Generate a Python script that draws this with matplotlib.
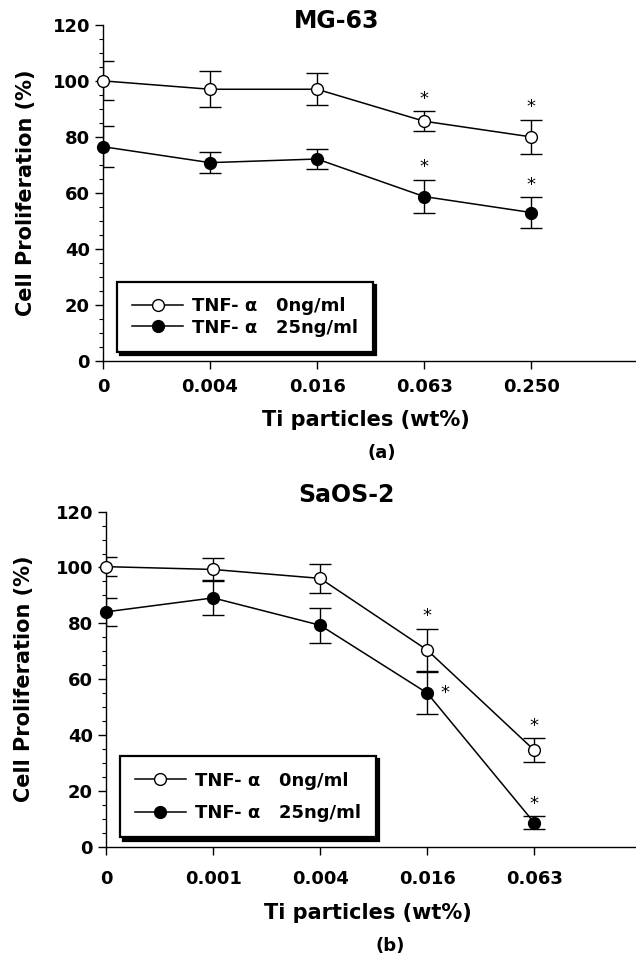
import matplotlib
matplotlib.use("Agg")
import matplotlib.pyplot as plt
from matplotlib.ticker import MultipleLocator

plt.rcParams["font.family"] = "DejaVu Sans"
plt.rcParams["font.weight"] = "bold"
plt.rcParams["axes.labelweight"] = "bold"

# ----------------------------------------------------------------------
# Data
# ----------------------------------------------------------------------
# (a) MG-63
mg_doses = ["0", "0.004", "0.016", "0.063", "0.250"]
mg_ctrl = [100.0, 97.0, 97.0, 85.6, 80.0]
mg_ctrl_err = [7.0, 6.4, 5.7, 3.6, 6.0]
mg_tnf = [76.5, 70.8, 72.1, 58.7, 53.0]
mg_tnf_err = [7.4, 3.7, 3.4, 6.0, 5.5]
mg_ctrl_star = [None, None, None, "top", "top"]
mg_tnf_star = [None, None, None, "top", "top"]

# (b) SaOS-2
sa_doses = ["0", "0.001", "0.004", "0.016", "0.063"]
sa_ctrl = [100.3, 99.3, 96.1, 70.4, 34.5]
sa_ctrl_err = [3.3, 4.0, 5.3, 7.6, 4.3]
sa_tnf = [84.1, 89.1, 79.3, 55.0, 8.5]
sa_tnf_err = [5.0, 6.3, 6.2, 7.6, 2.4]
sa_ctrl_star = [None, None, None, "top", "top"]
sa_tnf_star = [None, None, None, "right", "top"]

legend_labels = ["TNF- α   0ng/ml", "TNF- α   25ng/ml"]
y_ticks = [0, 20, 40, 60, 80, 100, 120]


def add_stars(ax, means, errs, where):
    for i, (m, e, w) in enumerate(zip(means, errs, where)):
        if w == "top":
            ax.text(i, m + e + 4.5, "*", ha="center", va="center",
                    fontsize=13, fontweight="normal")
        elif w == "right":
            ax.text(i + 0.17, m, "*", ha="center", va="center",
                    fontsize=13, fontweight="normal")


def draw_panel(ax, doses, ctrl, ctrl_err, tnf, tnf_err, ctrl_star, tnf_star,
               title, title_xy, xlab_xy, tag, tag_xy, ylab_x, xmax,
               xpad, leg_spacing, leg_pad):
    x = list(range(len(doses)))

    # error bars (clipped at the y axis, like the original)
    ax.errorbar(x, ctrl, yerr=ctrl_err, fmt="none", ecolor="black",
                elinewidth=1.0, capsize=8, capthick=1.0)
    ax.errorbar(x, tnf, yerr=tnf_err, fmt="none", ecolor="black",
                elinewidth=1.0, capsize=8, capthick=1.0)

    l1, = ax.plot(x, ctrl, "-o", color="black", lw=1.1, ms=8.5,
                  mfc="white", mec="black", mew=1.0, clip_on=False, zorder=3)
    l2, = ax.plot(x, tnf, "-o", color="black", lw=1.1, ms=8.5,
                  mfc="black", mec="black", clip_on=False, zorder=3)

    add_stars(ax, ctrl, ctrl_err, ctrl_star)
    add_stars(ax, tnf, tnf_err, tnf_star)

    ax.set_xlim(0, xmax)
    ax.set_ylim(0, 120)
    ax.set_xticks(x)
    ax.set_xticklabels(doses)
    ax.set_yticks(y_ticks)
    ax.yaxis.set_minor_locator(MultipleLocator(5))

    for side in ("top", "right"):
        ax.spines[side].set_visible(False)
    for side in ("left", "bottom"):
        ax.spines[side].set_linewidth(1.0)

    ax.tick_params(axis="y", which="major", direction="out", length=5.8,
                   width=1.0, pad=3.5, labelsize=13)
    ax.tick_params(axis="y", which="minor", direction="out", length=3,
                   width=0.8)
    ax.tick_params(axis="x", which="major", direction="out", length=5.8,
                   width=1.0, pad=xpad, labelsize=13)

    ax.set_ylabel("Cell Proliferation (%)", fontsize=15, fontweight="bold")
    ax.yaxis.set_label_coords(ylab_x, 0.5)

    ax.set_xlabel("Ti particles (wt%)", fontsize=15, fontweight="bold")
    ax.xaxis.set_label_coords(*xlab_xy)
    ax.xaxis.label.set_va("center")

    ax.text(title_xy[0], title_xy[1], title, transform=ax.transAxes,
            ha="center", va="center", fontsize=17)
    ax.text(tag_xy[0], tag_xy[1], tag, transform=ax.transAxes,
            ha="center", va="center", fontsize=13)

    leg = ax.legend([l1, l2], legend_labels, loc="lower left",
                    bbox_to_anchor=(0.026, 0.027), borderaxespad=0,
                    fancybox=False, framealpha=1, edgecolor="black",
                    shadow={"ox": 2.2, "oy": -2.2, "color": "black",
                            "alpha": 1.0},
                    fontsize=13, handlelength=2.8, handletextpad=0.5,
                    labelspacing=leg_spacing, borderpad=leg_pad, numpoints=1)
    leg.get_frame().set_linewidth(1.6)


fig = plt.figure(figsize=(6.36, 9.55), dpi=100)
ax_a = fig.add_axes([0.162, 0.622, 0.838, 0.352])
ax_b = fig.add_axes([0.1667, 0.1136, 0.8333, 0.3506])

draw_panel(ax_a, mg_doses, mg_ctrl, mg_ctrl_err, mg_tnf, mg_tnf_err,
           mg_ctrl_star, mg_tnf_star, "MG-63", (0.439, 1.012),
           (0.493, -0.176), "(a)", (0.523, -0.274), -0.125, 4.98,
           6.5, 0.2, 0.85)
draw_panel(ax_b, sa_doses, sa_ctrl, sa_ctrl_err, sa_tnf, sa_tnf_err,
           sa_ctrl_star, sa_tnf_star, "SaOS-2", (0.453, 1.051),
           (0.494, -0.198), "(b)", (0.536, -0.296), -0.135, 4.95,
           11, 0.8, 0.85)

fig.savefig("out.png", dpi=100)
